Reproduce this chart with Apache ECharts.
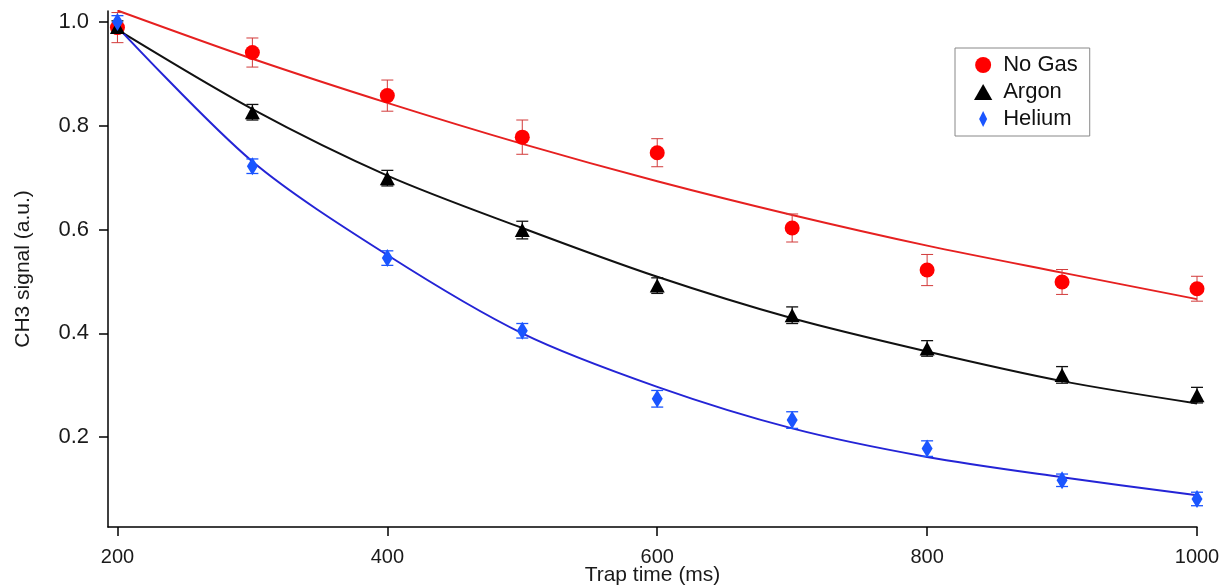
<!DOCTYPE html>
<html>
<head>
<meta charset="utf-8">
<script src="https://cdn.jsdelivr.net/npm/echarts@6/dist/echarts.min.js"></script>
<style>
html,body{margin:0;padding:0;background:#fff;}
#chart{width:1229px;height:586px;}
</style>
</head>
<body>
<div id="chart"></div>
<script>
// ---- data ----
var times = [200, 300, 400, 500, 600, 700, 800, 900, 1000];

var noGas     = [0.989, 0.941, 0.858, 0.778, 0.748, 0.603, 0.522, 0.499, 0.486];
var noGasErr  = [0.029, 0.028, 0.030, 0.033, 0.027, 0.027, 0.030, 0.024, 0.024];
var argon     = [0.990, 0.826, 0.699, 0.599, 0.492, 0.435, 0.371, 0.320, 0.281];
var argonErr  = [0.012, 0.015, 0.015, 0.017, 0.015, 0.016, 0.015, 0.016, 0.015];
var helium    = [1.000, 0.722, 0.545, 0.405, 0.274, 0.233, 0.178, 0.117, 0.081];
var heliumErr = [0.012, 0.014, 0.014, 0.014, 0.016, 0.016, 0.015, 0.012, 0.013];

var noGasFit  = [1.022, 0.929, 0.844, 0.765, 0.693, 0.628, 0.569, 0.517, 0.466];
var argonFit  = [0.985, 0.832, 0.704, 0.603, 0.509, 0.429, 0.365, 0.308, 0.265];
var heliumFit = [0.990, 0.731, 0.551, 0.400, 0.297, 0.217, 0.162, 0.123, 0.088];

var xTicks = [200, 400, 600, 800, 1000];
var yTicks = [0.2, 0.4, 0.6, 0.8, 1.0];

var seriesNames = ['No Gas', 'Argon', 'Helium'];

// ---- build ----
function pairs(xs, ys) { return xs.map(function (x, i) { return [x, ys[i]]; }); }
function errs(xs, ys, es) { return xs.map(function (x, i) { return [x, ys[i] - es[i], ys[i] + es[i]]; }); }

function errSeries(data, color, lw) {
  return {
    type: 'custom',
    silent: true,
    z: 3,
    renderItem: function (params, api) {
      var x = api.value(0);
      var lo = api.coord([x, api.value(1)]);
      var hi = api.coord([x, api.value(2)]);
      var w = 6;
      var st = { stroke: color, lineWidth: lw, fill: null };
      return {
        type: 'group',
        children: [
          { type: 'line', shape: { x1: lo[0], y1: lo[1], x2: hi[0], y2: hi[1] }, style: st },
          { type: 'line', shape: { x1: lo[0] - w, y1: lo[1], x2: lo[0] + w, y2: lo[1] }, style: st },
          { type: 'line', shape: { x1: hi[0] - w, y1: hi[1], x2: hi[0] + w, y2: hi[1] }, style: st }
        ]
      };
    },
    encode: { x: 0, y: [1, 2] },
    data: data
  };
}

function fitSeries(data, color) {
  return {
    type: 'line', smooth: 0.3, symbol: 'none', silent: true, z: 2,
    lineStyle: { color: color, width: 2 },
    data: data
  };
}

var FONT = 'Liberation Sans, Arial, sans-serif';
var TRI = 'path://M8,0 L16,14 L0,14 Z';
var DIA = 'path://M5,0 L10,10 L5,20 L0,10 Z';
var chart = echarts.init(document.getElementById('chart'), null, { renderer: 'canvas' });

chart.setOption({
  animation: false,
  backgroundColor: '#ffffff',
  grid: { left: 108, right: 32, top: 11, bottom: 59, outerBoundsMode: 'none', containLabel: false },
  xAxis: {
    type: 'value', min: 193, max: 1000,
    name: 'Trap time (ms)', nameLocation: 'middle', nameGap: 38, nameMoveOverlap: false,
    nameTextStyle: { fontFamily: FONT, fontSize: 21, color: '#1a1a1a' },
    axisLine: { show: true, onZero: false, lineStyle: { color: '#000', width: 1.5 } },
    axisTick: { show: true, customValues: xTicks, length: 9, lineStyle: { color: '#000', width: 1.5 } },
    axisLabel: { customValues: xTicks, fontFamily: FONT, fontSize: 20, color: '#1a1a1a', margin: 20,
      formatter: function (v) { return String(v); } },
    splitLine: { show: false }
  },
  yAxis: {
    type: 'value', min: 0.027, max: 1.021,
    name: 'CH3 signal (a.u.)', nameLocation: 'middle', nameGap: 74, nameMoveOverlap: false,
    nameTextStyle: { fontFamily: FONT, fontSize: 21, color: '#1a1a1a' },
    axisLine: { show: true, onZero: false, lineStyle: { color: '#000', width: 1.5 } },
    axisTick: { show: true, customValues: yTicks, length: 9, lineStyle: { color: '#000', width: 1.5 } },
    axisLabel: { customValues: yTicks, fontFamily: FONT, fontSize: 22, color: '#1a1a1a', margin: 19,
      formatter: function (v) { return v.toFixed(1); } },
    splitLine: { show: false }
  },
  legend: {
    orient: 'vertical', left: 955, top: 48,
    padding: [6, 12, 6, 19], itemGap: 5,
    itemWidth: 30, itemHeight: 16,
    borderColor: '#888', borderWidth: 1,
    textStyle: { fontFamily: FONT, fontSize: 22, color: '#111' },
    data: [
      { name: seriesNames[0], icon: 'circle' },
      { name: seriesNames[1], icon: TRI },
      { name: seriesNames[2], icon: DIA }
    ]
  },
  series: [
    fitSeries(pairs(times, noGasFit), '#e62020'),
    fitSeries(pairs(times, argonFit), '#111111'),
    fitSeries(pairs(times, heliumFit), '#2424d6'),
    errSeries(errs(times, noGas, noGasErr), '#d23a3a', 1),
    errSeries(errs(times, argon, argonErr), '#111111', 1.3),
    errSeries(errs(times, helium, heliumErr), '#1a55ff', 1.3),
    { name: seriesNames[0], type: 'scatter', symbol: 'circle', symbolSize: 15, z: 4,
      itemStyle: { color: '#ff0000', opacity: 1 }, data: pairs(times, noGas) },
    { name: seriesNames[1], type: 'scatter', symbol: 'triangle', symbolKeepAspect: true, symbolSize: [15, 14], z: 4,
      itemStyle: { color: '#000000', opacity: 1 }, data: pairs(times, argon) },
    { name: seriesNames[2], type: 'scatter', symbol: 'diamond', symbolKeepAspect: true, symbolSize: [11, 18], z: 4,
      itemStyle: { color: '#1a55ff', opacity: 1 }, data: pairs(times, helium) }
  ]
});
</script>
</body>
</html>
